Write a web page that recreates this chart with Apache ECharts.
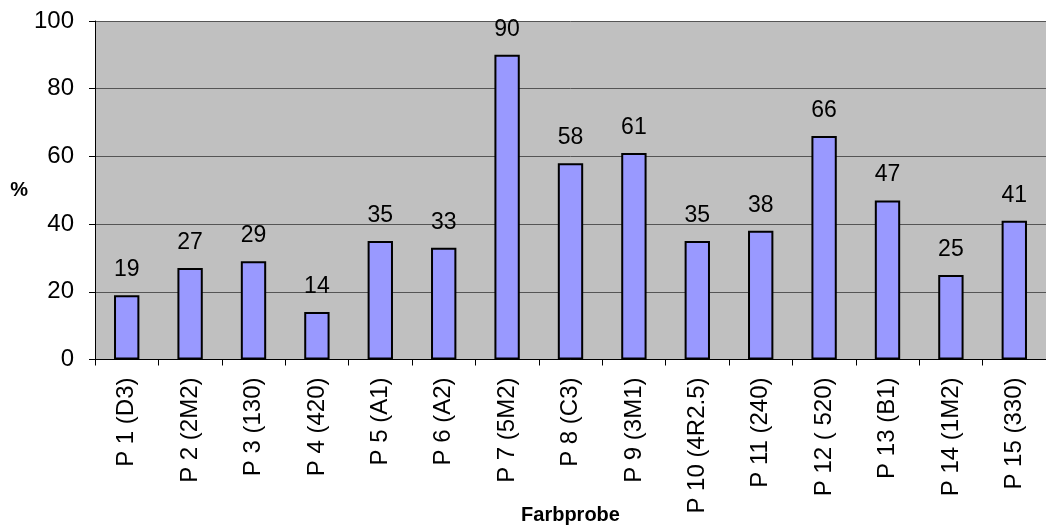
<!DOCTYPE html>
<html>
<head>
<meta charset="utf-8">
<script src="https://cdn.jsdelivr.net/npm/echarts@6/dist/echarts.min.js"></script>
<style>
  html, body { margin: 0; padding: 0; background: #ffffff; }
  #chart { width: 1046px; height: 527px; }
</style>
</head>
<body>
<div id="chart"></div>
<script>
// Farbproben and their percentage values
const categories = [
  'P 1 (D3)', 'P 2 (2M2)', 'P 3 (130)', 'P 4 (420)', 'P 5 (A1)',
  'P 6 (A2)', 'P 7 (5M2)', 'P 8 (C3)', 'P 9 (3M1)', 'P 10 (4R2.5)',
  'P 11 (240)', 'P 12 ( 520)', 'P 13 (B1)', 'P 14 (1M2)', 'P 15 (330)'
];
const values = [19, 27, 29, 14, 35, 33, 90, 58, 61, 35, 38, 66, 47, 25, 41];
const yTicks = [0, 20, 40, 60, 80, 100];

const FONT = 'Liberation Sans, Arial, sans-serif';

const chart = echarts.init(document.getElementById('chart'), null, { renderer: 'canvas' });

chart.setOption({
  animation: false,
  backgroundColor: '#ffffff',
  grid: {
    left: 95, top: 21, right: 0, bottom: 167.5,
    containLabel: false,
    outerBoundsMode: 'none',
    show: true, backgroundColor: '#C0C0C0', borderWidth: 0
  },
  xAxis: {
    type: 'category',
    data: categories,
    name: 'Farbprobe',
    nameLocation: 'middle',
    nameGap: 146,
    nameMoveOverlap: false,
    nameTextStyle: { fontFamily: FONT, fontSize: 20, fontWeight: 'bold', color: '#000' },
    axisLine: { show: true, lineStyle: { color: '#000', width: 1 } },
    axisTick: { show: true, length: 6, inside: false, alignWithLabel: false, lineStyle: { color: '#000' } },
    axisLabel: {
      rotate: 90, margin: 18, interval: 0,
      fontFamily: FONT, fontSize: 24, color: '#000'
    },
    splitLine: { show: false }
  },
  yAxis: {
    type: 'value',
    min: yTicks[0], max: yTicks[yTicks.length - 1], interval: 20,
    name: '%',
    nameLocation: 'middle',
    nameRotate: 0,
    nameGap: 67,
    nameMoveOverlap: false,
    nameTextStyle: { fontFamily: FONT, fontSize: 20, fontWeight: 'bold', color: '#000' },
    axisLine: { show: true, lineStyle: { color: '#000', width: 1 } },
    axisTick: { show: true, length: 6, inside: false, lineStyle: { color: '#000' } },
    axisLabel: { margin: 21, fontFamily: FONT, fontSize: 24, color: '#000' },
    splitLine: { show: true, lineStyle: { color: '#555', width: 1 } }
  },
  series: [{
    type: 'bar',
    data: values,
    barWidth: '40%',
    itemStyle: { color: '#9999FF', borderColor: '#000', borderWidth: 2 },
    label: {
      show: true, position: 'top', distance: 14,
      fontFamily: FONT, fontSize: 23, color: '#000'
    }
  }]
});
</script>
</body>
</html>
